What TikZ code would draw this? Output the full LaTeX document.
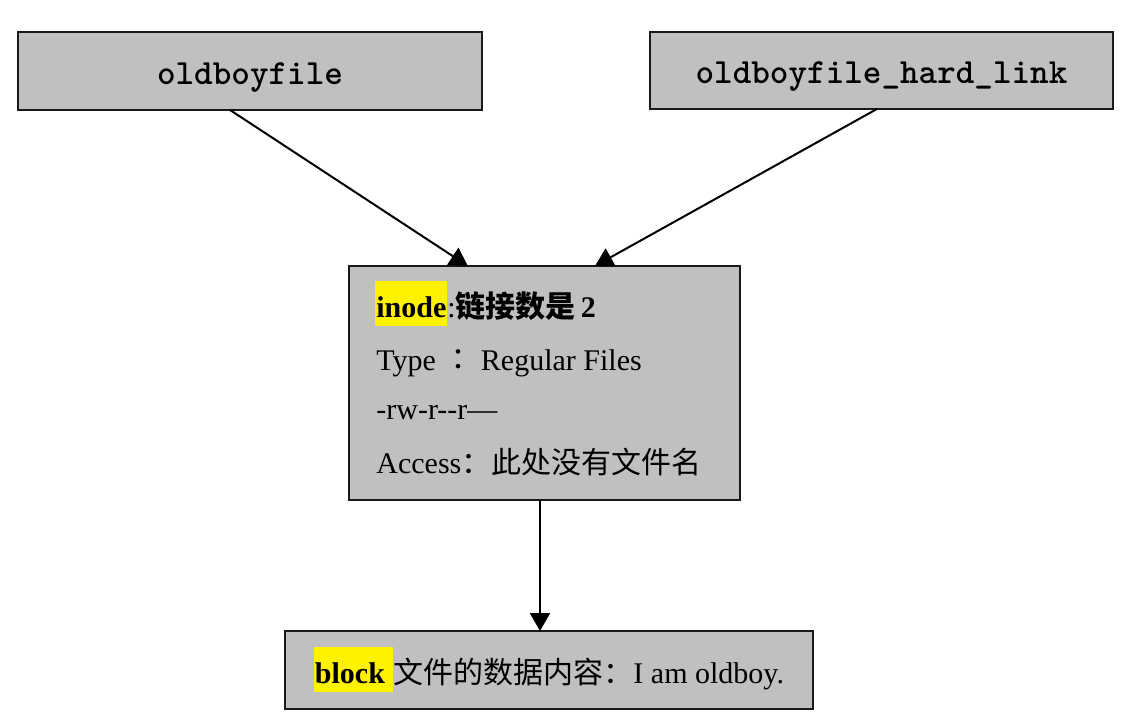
\documentclass[tikz,border=0pt]{standalone}
\usepackage{fontspec}
\setmainfont{Liberation Serif}
\newfontfamily\cjk{Noto Sans CJK SC}
\newfontfamily\cjktc{Noto Sans CJK TC}
\usetikzlibrary{arrows.meta,calc}
\definecolor{boxgray}{HTML}{C0C0C0}
\definecolor{edgecol}{HTML}{1A1A1A}
\newcommand\hlword[1]{{\setlength{\fboxsep}{0pt}\colorbox{yellow}{\rule[-4.5pt]{0pt}{22.5pt}\hspace{0.5pt}#1\hspace{0.5pt}}}}
\tikzset{
  graybox/.style={draw=edgecol, line width=1.2pt, fill=boxgray, inner sep=0pt, outer sep=0pt},
  monolabel/.style={font=\ttfamily\bfseries\fontsize{17.7pt}{20pt}\selectfont, text height=16pt, text depth=3pt},
  linetext/.style={anchor=base west, inner sep=0pt, font=\fontsize{15pt}{18pt}\selectfont},
  conn/.style={line width=1pt, black, -{Triangle[length=9pt,width=10pt]}}
}
\begin{document}
\begin{tikzpicture}[x=0.5pt,y=-0.5pt]
\useasboundingbox (0,0) rectangle (1147,720);
\fill[white] (0,0) rectangle (1147,720);

\node[graybox, monolabel, minimum width=232pt, minimum height=39pt] (file) at (250,71) {oldboyfile};
\node[graybox, monolabel, minimum width=231.5pt, minimum height=38.5pt] (hard) at (881.5,70.5) {oldboyfile\_hard\_link};

\node[graybox, minimum width=195.5pt, minimum height=117pt] (inode) at (544.5,383) {};
\node[linetext] (l1) at (375,317) {\hlword{\textbf{inode}}:{\cjk\bfseries 链接数是}\,\textbf{2}};
\node[linetext] (l2) at (376,370) {Type {\cjktc ：} Regular Files};
\node[linetext] (l3) at (376,419) {-rw-{}r-{}-{}r—};
\node[linetext] (l4) at (376,473) {Access{\cjk ：此处没有文件名}};

\node[graybox, minimum width=264pt, minimum height=39pt, font=\fontsize{15pt}{18pt}\selectfont, text height=18.5pt, text depth=5.5pt] (block) at (549,670)
  {\hlword{\textbf{block}\ }{\cjk 文件的数据内容：}I am oldboy.};

\draw[conn] ($(file.south west)!0.457!(file.south east)$) -- ($(inode.north west)!0.304!(inode.north east)$);
\draw[conn] ($(hard.south west)!0.49!(hard.south east)$) -- ($(inode.north west)!0.629!(inode.north east)$);
\draw[conn] ([xshift=-2.25pt]inode.south) -- ([xshift=-2.25pt]inode.south |- block.north);
\end{tikzpicture}
\end{document}
